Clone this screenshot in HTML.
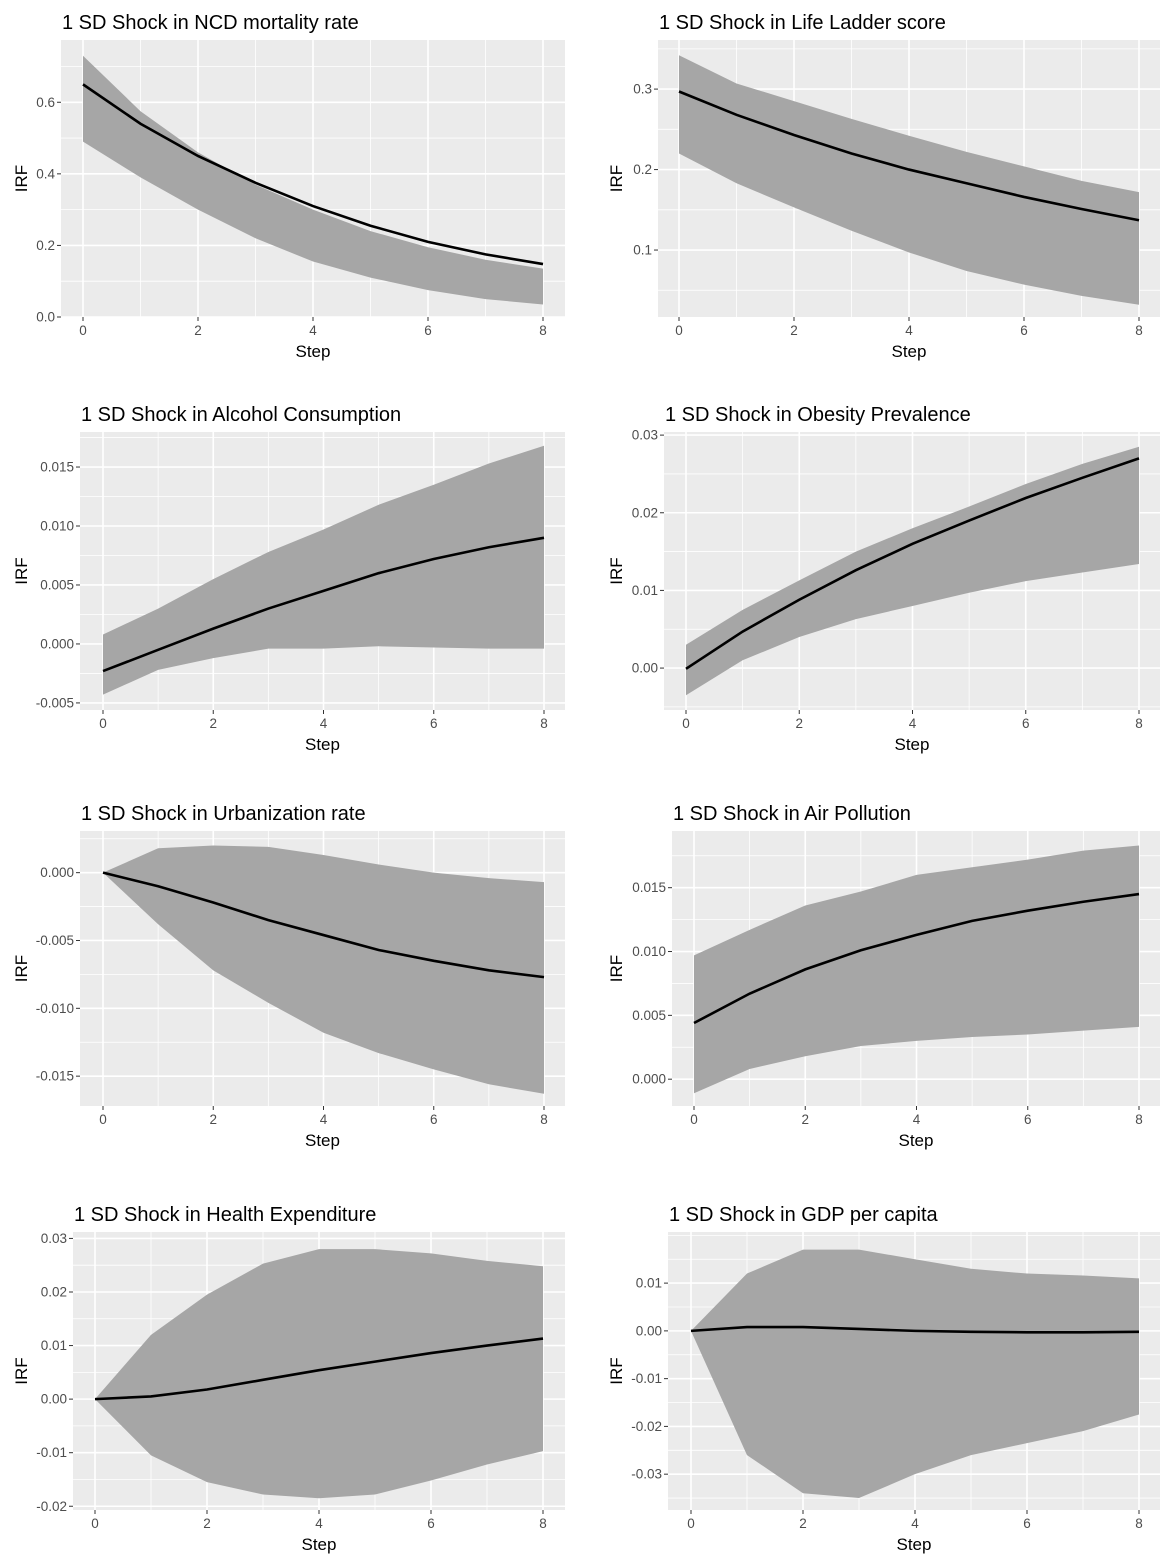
<!DOCTYPE html>
<html><head><meta charset="utf-8"><style>
html,body{margin:0;padding:0;background:#fff;}
svg{display:block;font-family:"Liberation Sans",Arial,sans-serif;}
</style></head><body>
<svg id="fig" width="1170" height="1560" viewBox="0 0 1170 1560" xmlns="http://www.w3.org/2000/svg"></svg>
<script>
// ---- data (steps 0..8) ----
const steps = [0,1,2,3,4,5,6,7,8];
const titles = ["1 SD Shock in NCD mortality rate","1 SD Shock in Life Ladder score","1 SD Shock in Alcohol Consumption","1 SD Shock in Obesity Prevalence","1 SD Shock in Urbanization rate","1 SD Shock in Air Pollution","1 SD Shock in Health Expenditure","1 SD Shock in GDP per capita"];
const ncdMean = [0.65,0.54,0.45,0.375,0.31,0.255,0.21,0.175,0.148];
const ncdUpper = [0.73,0.575,0.46,0.37,0.30,0.24,0.195,0.16,0.135];
const ncdLower = [0.49,0.39,0.30,0.22,0.155,0.11,0.075,0.05,0.035];
const lifeMean = [0.297,0.268,0.243,0.22,0.2,0.183,0.166,0.151,0.137];
const lifeUpper = [0.342,0.307,0.285,0.263,0.242,0.222,0.204,0.186,0.172];
const lifeLower = [0.22,0.183,0.153,0.124,0.097,0.074,0.057,0.043,0.032];
const alcMean = [-0.0023,-0.0005,0.0013,0.003,0.0045,0.006,0.0072,0.0082,0.009];
const alcUpper = [0.0008,0.003,0.0055,0.0078,0.0097,0.0118,0.0135,0.0153,0.0168];
const alcLower = [-0.0043,-0.0022,-0.0012,-0.0004,-0.0004,-0.0002,-0.0003,-0.0004,-0.0004];
const obMean = [-0.0001,0.0047,0.0088,0.0126,0.016,0.019,0.0219,0.0245,0.027];
const obUpper = [0.003,0.0075,0.0113,0.015,0.018,0.0208,0.0237,0.0263,0.0285];
const obLower = [-0.0035,0.001,0.004,0.0063,0.008,0.0097,0.0112,0.0123,0.0134];
const urbMean = [0,-0.001,-0.0022,-0.0035,-0.0046,-0.0057,-0.0065,-0.0072,-0.0077];
const urbUpper = [0,0.0018,0.002,0.0019,0.0013,0.0006,0,-0.0004,-0.0007];
const urbLower = [0,-0.0038,-0.0072,-0.0096,-0.0118,-0.0133,-0.0145,-0.0156,-0.0163];
const airMean = [0.0044,0.0067,0.0086,0.0101,0.0113,0.0124,0.0132,0.0139,0.0145];
const airUpper = [0.0097,0.0117,0.0136,0.0147,0.016,0.0166,0.0172,0.0179,0.0183];
const airLower = [-0.0011,0.0008,0.0018,0.0026,0.003,0.0033,0.0035,0.0038,0.0041];
const heMean = [0,0.0005,0.0018,0.0036,0.0054,0.007,0.0086,0.01,0.0113];
const heUpper = [0,0.012,0.0195,0.0253,0.028,0.028,0.0272,0.0258,0.0248];
const heLower = [0,-0.0105,-0.0155,-0.0178,-0.0185,-0.0178,-0.0152,-0.0122,-0.0097];
const gdpMean = [0,0.0008,0.0008,0.0004,0,-0.0002,-0.0003,-0.0003,-0.0002];
const gdpUpper = [0,0.012,0.017,0.017,0.015,0.013,0.012,0.0116,0.011];
const gdpLower = [0,-0.026,-0.034,-0.035,-0.03,-0.026,-0.0235,-0.021,-0.0175];
const xTicks = [0,2,4,6,8];
const yTicks1 = ["0.0","0.2","0.4","0.6"];
const yTicks2 = ["0.1","0.2","0.3"];
const yTicks3 = ["-0.005","0.000","0.005","0.010","0.015"];
const yTicks4 = ["0.00","0.01","0.02","0.03"];
const yTicks5 = ["-0.015","-0.010","-0.005","0.000"];
const yTicks6 = ["0.000","0.005","0.010","0.015"];
const yTicks7 = ["-0.02","-0.01","0.00","0.01","0.02","0.03"];
const yTicks8 = ["-0.03","-0.02","-0.01","0.00","0.01"];

// ---- layout (not data) ----
const panels = [
 {m:ncdMean,u:ncdUpper,l:ncdLower,t:yTicks1,L:61,R:565,T:40,B:317,x0:83,x8:543,ymin:0,ymax:0.774,minor:0.1},
 {m:lifeMean,u:lifeUpper,l:lifeLower,t:yTicks2,L:658,R:1160,T:40,B:317,x0:679,x8:1139,ymin:0.0168,ymax:0.361,minor:0.05},
 {m:alcMean,u:alcUpper,l:alcLower,t:yTicks3,L:80,R:565,T:432,B:710,x0:103,x8:544,ymin:-0.0056,ymax:0.01797,minor:0.0025},
 {m:obMean,u:obUpper,l:obLower,t:yTicks4,L:664,R:1160,T:432,B:710,x0:686,x8:1139,ymin:-0.0054,ymax:0.0304,minor:0.005},
 {m:urbMean,u:urbUpper,l:urbLower,t:yTicks5,L:80,R:565,T:831,B:1106,x0:103,x8:544,ymin:-0.0172,ymax:0.00307,minor:0.0025},
 {m:airMean,u:airUpper,l:airLower,t:yTicks6,L:672,R:1160,T:831,B:1106,x0:694,x8:1139,ymin:-0.0021,ymax:0.01944,minor:0.0025},
 {m:heMean,u:heUpper,l:heLower,t:yTicks7,L:73,R:565,T:1232,B:1510,x0:95,x8:543,ymin:-0.0207,ymax:0.0312,minor:0.005},
 {m:gdpMean,u:gdpUpper,l:gdpLower,t:yTicks8,L:668,R:1160,T:1232,B:1510,x0:691,x8:1139,ymin:-0.0375,ymax:0.0207,minor:0.005}
];
const NS="http://www.w3.org/2000/svg";
const svg=document.getElementById('fig');
function mk(tag,attrs,parent){const e=document.createElementNS(NS,tag);for(const k in attrs)e.setAttribute(k,attrs[k]);(parent||svg).appendChild(e);return e;}
panels.forEach((p,i)=>{
 const g=mk('g',{});
 
 
 const xs=s=>p.x0+(p.x8-p.x0)*s/8;
 const ys=v=>p.B-(v-p.ymin)/(p.ymax-p.ymin)*(p.B-p.T);
 const bg=mk('rect',{x:p.L,y:p.T,width:p.R-p.L,height:p.B-p.T,fill:'#ebebeb'},g);
 
 
 const tv=p.t.map(Number);
 const start=Math.ceil(p.ymin/p.minor)*p.minor;
 for(let v=start;v<=p.ymax+1e-12;v+=p.minor){
   const major=tv.some(t=>Math.abs(t-v)<p.minor*0.01);
   mk('line',{x1:p.L,x2:p.R,y1:ys(v),y2:ys(v),stroke:'#fff','stroke-width':major?1.6:0.8},g);
 }
 for(let s=-1;s<=9;s++){const x=xs(s);if(x<p.L||x>p.R)continue;
   mk('line',{x1:x,x2:x,y1:p.T,y2:p.B,stroke:'#fff','stroke-width':s%2===0?1.6:0.8},g);}
 let d='M'+steps.map(s=>xs(s)+','+ys(p.u[s])).join('L')+'L'+steps.slice().reverse().map(s=>xs(s)+','+ys(p.l[s])).join('L')+'Z';
 const rb=mk('path',{d:d,fill:'#a6a6a6'},g);
 
 
 const ln=mk('polyline',{points:steps.map(s=>xs(s)+','+ys(p.m[s])).join(' '),fill:'none',stroke:'#000','stroke-width':2.6},g);
 
 
 p.t.forEach(lbl=>{const y=ys(Number(lbl));
   mk('line',{x1:p.L-4,x2:p.L,y1:y,y2:y,stroke:'#333','stroke-width':1},g);
   const t=mk('text',{x:p.L-6,y:y+4.5,'text-anchor':'end','font-size':13.5,fill:'#4d4d4d'},g);
   t.textContent=lbl;
   
   });
 xTicks.forEach(s=>{const x=xs(s);
   mk('line',{x1:x,x2:x,y1:p.B,y2:p.B+4,stroke:'#333','stroke-width':1},g);
   const t=mk('text',{x:x,y:p.B+18,'text-anchor':'middle','font-size':13.5,fill:'#4d4d4d'},g);
   t.textContent=s;
   
   });
 const tt=mk('text',{x:p.L+1,y:p.T-11,'font-size':20,fill:'#000'},g);
 tt.textContent=titles[i];
 
 
 const xl=mk('text',{x:(p.L+p.R)/2,y:p.B+40,'text-anchor':'middle','font-size':17,fill:'#000'},g);
 xl.textContent='Step';
 
 
 const yx=i%2===0?27:622;
 const yl=mk('text',{x:yx,y:(p.T+p.B)/2,'text-anchor':'middle','font-size':17,fill:'#000',transform:'rotate(-90 '+yx+' '+((p.T+p.B)/2)+')'},g);
 yl.textContent='IRF';
 
 
});
</script>
</body></html>
